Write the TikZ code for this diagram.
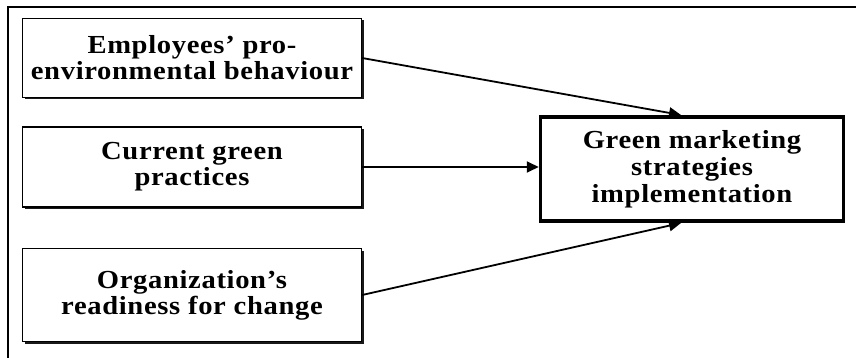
\documentclass[tikz,border=0pt]{standalone}
\usepackage{fontspec}
\setmainfont{Liberation Serif}
\newfontfamily\widebold[FakeStretch=1.1,LetterSpace=2.5]{Liberation Serif Bold}
\usetikzlibrary{arrows.meta,shadows}
\begin{document}
\begin{tikzpicture}[x=1pt,y=-1pt,
  inbox/.style={draw=black, line width=1.3pt, fill=white, minimum width=339pt,
    align=center, inner sep=0pt,
    font=\widebold\fontsize{26}{26}\selectfont,
    drop shadow={shadow xshift=2pt, shadow yshift=-2pt, fill=black, opacity=0.9}},
  outbox/.style={draw=black, line width=3.5pt, fill=white, minimum width=303pt,
    minimum height=104pt, align=center, inner sep=0pt,
    font=\widebold\fontsize{26}{27}\selectfont},
  link/.style={line width=1.8pt, -{Triangle[length=12pt,width=11pt]}}]
\useasboundingbox (0,0) rectangle (856,358);
\draw[line width=2.2pt] (8,358) -- (8,7) -- (856,7);
\node[inbox, minimum height=79pt] (emp) at (192,58) {Employees’ pro-\\environmental behaviour};
\node[inbox, minimum height=80pt] (cur) at (192,167) {Current green\\practices};
\node[inbox, minimum height=93pt] (org) at (192,295) {Organization’s\\readiness for change};
\node[outbox] (gms) at (692,169) {Green marketing\\strategies\\implementation};
\coordinate (gtop) at (681,115);
\coordinate (gbot) at (681,223);
\draw[link] (emp.east) -- (gtop);
\draw[link] (cur.east) -- (cur.east -| gms.west);
\draw[link] (org.east) -- (gbot);
\end{tikzpicture}
\end{document}
